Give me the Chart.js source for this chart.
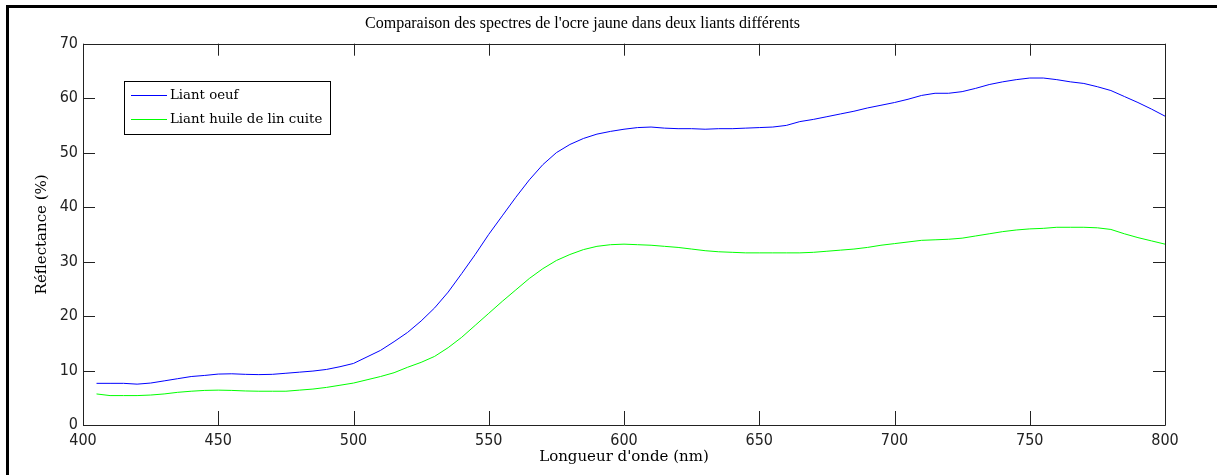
<!DOCTYPE html>
<html>
<head>
<meta charset="utf-8">
<script src="https://cdn.jsdelivr.net/npm/chart.js@4/dist/chart.umd.min.js"></script>
<style>
html,body{margin:0;padding:0;background:#fff;}
#wrap{width:1217px;height:475px;position:relative;}
</style>
</head>
<body>
<div id="wrap"><canvas id="c" width="1217" height="475"></canvas></div>
<script>
const wavelengths = [405,410,415,420,425,430,435,440,445,450,455,460,465,470,475,480,485,490,495,500,505,510,515,520,525,530,535,540,545,550,555,560,565,570,575,580,585,590,595,600,605,610,615,620,625,630,635,640,645,650,655,660,665,670,675,680,685,690,695,700,705,710,715,720,725,730,735,740,745,750,755,760,765,770,775,780,785,790,795,800];
const liantOeuf = [7.65,7.65,7.65,7.5,7.7,8.1,8.5,8.9,9.1,9.35,9.4,9.3,9.25,9.3,9.5,9.7,9.9,10.2,10.7,11.3,12.5,13.7,15.3,17.0,19.1,21.5,24.4,27.8,31.3,35.0,38.4,41.8,45.0,47.8,50.0,51.5,52.6,53.4,53.9,54.3,54.6,54.7,54.5,54.4,54.4,54.3,54.4,54.4,54.5,54.6,54.7,55.0,55.7,56.1,56.6,57.1,57.6,58.2,58.7,59.2,59.8,60.5,60.9,60.9,61.2,61.8,62.5,63.0,63.4,63.7,63.7,63.4,63.0,62.7,62.1,61.4,60.3,59.2,58.0,56.7];
const liantHuile = [5.7,5.4,5.4,5.4,5.5,5.7,6.0,6.2,6.35,6.4,6.35,6.25,6.2,6.2,6.2,6.4,6.6,6.9,7.3,7.7,8.3,8.9,9.6,10.6,11.5,12.6,14.2,16.1,18.3,20.5,22.7,24.8,26.9,28.7,30.2,31.3,32.2,32.8,33.1,33.2,33.1,33.0,32.8,32.6,32.3,32.0,31.8,31.7,31.6,31.6,31.6,31.6,31.6,31.7,31.9,32.1,32.3,32.6,33.0,33.3,33.6,33.9,34.0,34.1,34.3,34.7,35.1,35.5,35.8,36.0,36.1,36.3,36.3,36.3,36.2,35.9,35.1,34.4,33.8,33.2];
const seriesNames = ['Liant oeuf','Liant huile de lin cuite'];
const xTicks = [400,450,500,550,600,650,700,750,800];
const yTicks = [0,10,20,30,40,50,60,70];

const toPts = vals => wavelengths.map((w,i)=>({x:w,y:vals[i]}));

const tickFont = {family:"'Liberation Sans Narrow','DejaVu Sans Condensed',sans-serif", size:16};
const serifFont = "'DejaVu Serif',serif";

const framePlugin = {
  id:'frame',
  beforeDraw(chart){
    const ctx = chart.ctx;
    ctx.save();
    ctx.fillStyle='#fff';
    ctx.fillRect(0,0,chart.width,chart.height);
    ctx.fillStyle='#000';
    ctx.fillRect(6,5,chart.width-6,3);
    ctx.fillRect(6,5,3,chart.height-5);
    ctx.restore();
  },
  afterDatasetsDraw(chart){
    const ctx = chart.ctx, a = chart.chartArea;
    const xs = chart.scales.x, ys = chart.scales.y;
    ctx.save();
    ctx.strokeStyle='#222';
    ctx.lineWidth=1;
    ctx.beginPath();
    ctx.rect(Math.round(a.left)+0.5, Math.round(a.top)+0.5, Math.round(a.right-a.left), Math.round(a.bottom-a.top));
    ctx.stroke();
    ctx.beginPath();
    xs.ticks.forEach(t=>{
      const px = Math.round(xs.getPixelForValue(t.value))+0.5;
      ctx.moveTo(px,a.bottom); ctx.lineTo(px,a.bottom-14);
      ctx.moveTo(px,a.top); ctx.lineTo(px,a.top+12);
    });
    ys.ticks.forEach(t=>{
      const py = Math.round(ys.getPixelForValue(t.value))+0.5;
      ctx.moveTo(a.left,py); ctx.lineTo(a.left+12,py);
      ctx.moveTo(a.right,py); ctx.lineTo(a.right-12,py);
    });
    ctx.stroke();
    // legend box
    const bx=124.5, by=81.5, bw=206, bh=53;
    ctx.fillStyle='#fff';
    ctx.fillRect(bx,by,bw,bh);
    ctx.strokeStyle='#000';
    ctx.strokeRect(bx,by,bw,bh);
    ctx.font = "13.3px "+serifFont;
    ctx.textBaseline='middle';
    ctx.textAlign='left';
    chart.data.datasets.forEach((ds,i)=>{
      const ly = 95.5 + i*24;
      ctx.strokeStyle = ds.borderColor;
      ctx.beginPath(); ctx.moveTo(131,ly); ctx.lineTo(167,ly); ctx.stroke();
      ctx.fillStyle='#000';
      ctx.fillText(ds.label,170,ly);
    });
    ctx.restore();
  }
};

new Chart(document.getElementById('c'),{
  type:'line',
  data:{
    datasets:[
      {label:seriesNames[0],data:toPts(liantOeuf),borderColor:'#0000ff',borderWidth:1,pointRadius:0,tension:0,fill:false},
      {label:seriesNames[1],data:toPts(liantHuile),borderColor:'#00ff00',borderWidth:1,pointRadius:0,tension:0,fill:false}
    ]
  },
  options:{
    responsive:false,
    animation:false,
    events:[],
    layout:{padding:{left:0,right:52,top:0,bottom:0}},
    plugins:{
      legend:{display:false},
      tooltip:{enabled:false},
      title:{display:true,text:"Comparaison des spectres de l'ocre jaune dans deux liants différents",
        font:{family:"'Liberation Serif',serif",size:16,weight:'normal'},color:'#000',
        padding:{top:14.5,bottom:10}}
    },
    scales:{
      x:{type:'linear',min:400,max:800,
        afterBuildTicks(s){s.ticks = xTicks.map(v=>({value:v}));},
        afterFit(s){s.height=50;},
        grid:{display:false,drawTicks:false},
        border:{display:false},
        ticks:{font:tickFont,color:'#222',padding:6,maxRotation:0,autoSkip:false},
        title:{display:true,text:"Longueur d'onde (nm)",font:{family:serifFont,size:15},color:'#000',padding:{bottom:9}}
      },
      y:{type:'linear',min:0,max:70,
        afterBuildTicks(s){s.ticks = yTicks.map(v=>({value:v}));},
        afterFit(s){s.width=83;},
        grid:{display:false,drawTicks:false},
        border:{display:false},
        ticks:{font:tickFont,color:'#222',padding:5,autoSkip:false},
        title:{display:true,text:"Réflectance (%)",font:{family:serifFont,size:15},color:'#000',padding:{top:33}}
      }
    }
  },
  plugins:[framePlugin]
});
</script>
</body>
</html>
